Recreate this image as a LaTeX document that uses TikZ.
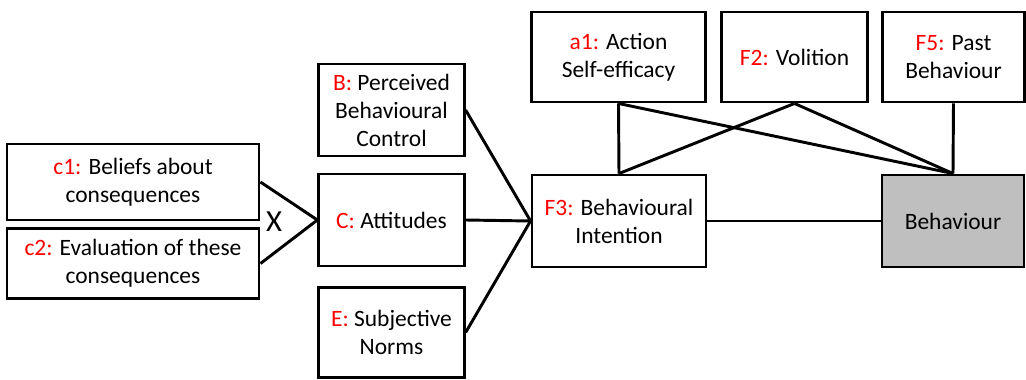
\documentclass[tikz,border=0pt]{standalone}
\usepackage{fontspec}
\setmainfont{Carlito}
\usetikzlibrary{positioning}
\newcommand{\facet}[1]{\textcolor{red}{#1}}

\begin{document}
\begin{tikzpicture}[x=0.75pt, y=-0.75pt,
    box/.style={draw, line width=2.2pt, align=center, inner sep=0pt,
        font=\fontsize{17.6}{21}\selectfont},
    link/.style={line width=2.2pt}]
    \useasboundingbox (0,0) rectangle (1026,379);

    % Beliefs
    \node[box, minimum width=189pt, minimum height=57pt] (c1) at (133,182) {\facet{c1:} Beliefs about\\consequences};
    \node[box, minimum width=189pt, minimum height=52pt] (c2) at (133,263.5) {\facet{c2:} Evaluation of these\\consequences};
    \node[font=\fontsize{23}{26}\selectfont, inner sep=0pt] (times) at (274,222) {X};

    % Determinants
    \node[box, minimum width=109pt, minimum height=69pt] (pbc) at (391.5,110) {\facet{B:} Perceived\\Behavioural\\Control};
    \node[box, minimum width=109pt, minimum height=69pt] (att) at (391.5,220) {\facet{C:} Attitudes};
    \node[box, minimum width=109pt, minimum height=68pt] (norms) at (391.5,332.5) {\facet{E:} Subjective\\Norms};

    % Intention and behaviour
    \node[box, minimum width=130.5pt, minimum height=69pt] (intent) at (619,221) {\facet{F3:} Behavioural\\Intention};
    \node[box, minimum width=106.5pt, minimum height=69pt, fill=black!25] (behav) at (953,221) {Behaviour};

    % Top row
    \node[box, minimum width=131pt, minimum height=67.5pt] (a1) at (618.5,57) {\facet{a1:} Action\\Self-efficacy};
    \node[box, minimum width=109pt, minimum height=67.5pt] (volit) at (794.5,57) {\facet{F2:} Volition};
    \node[box, minimum width=106.5pt, minimum height=67.5pt] (past) at (953.5,57) {\facet{F5:} Past\\Behaviour};

    % Links
    \draw[link] (c1.east) -- (att.west) -- (c2.east);
    \draw[link] (pbc.east) -- (intent.west);
    \draw[link] (att.east) -- (intent.west);
    \draw[link] (norms.east) -- (intent.west);
    \draw[link] (intent.east) -- (behav.west);
    \draw[link] (a1.south) -- (intent.north);
    \draw[link] (a1.south) -- (behav.north);
    \draw[link] (volit.south) -- (intent.north);
    \draw[link] (volit.south) -- (behav.north);
    \draw[link] (past.south) -- (behav.north);
\end{tikzpicture}
\end{document}
